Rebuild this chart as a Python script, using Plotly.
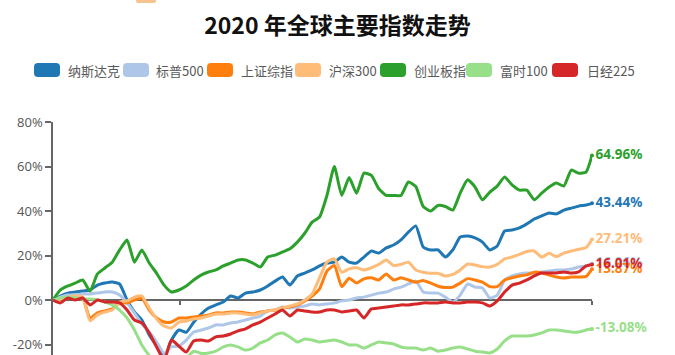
import pandas as pd
import plotly.graph_objects as go

# ---------------- data (cumulative % change, 2020) ----------------
dates = list(pd.date_range("2020-01-02", periods=73, freq="5D").strftime("%Y-%m-%d")) + ["2020-12-31"]

names = ["纳斯达克", "标普500", "上证综指", "沪深300", "创业板指", "富时100", "日经225"]
colors = ["#1f77b4", "#aec7e8", "#ff7f0e", "#ffbb78", "#2ca02c", "#98df8a", "#d62728"]

nasdaq = [0, 1.8, 3.1, 3.6, 4.0, 4.5, 6.7, 7.6, 8.1, 7.2, 0, -5.4, -9.0, -15.7, -20.7, -26, -18, -13.5,
          -14.5, -10.0, -6.3, -3.6, -2.2, -0.9, 1.8, 0.9, 3.1, 3.6, 4.5, 6.3, 8.5, 10.3, 6.7, 10.8, 12.1,
          13.5, 15.3, 16.6, 17.0, 19.3, 17.0, 16.6, 19.3, 22.0, 21.1, 23.4, 24.7, 27.0, 30.5, 33.3, 23.8,
          22.5, 22.5, 19.3, 22.5, 28.3, 28.8, 27.9, 26.0, 22.5, 24.3, 31.0, 31.5, 32.4, 34.2, 36.4, 37.8,
          39.1, 38.7, 40.4, 41.3, 42.2, 42.7, 43.44]
sp500 = [0, 1.3, 2.2, 2.2, 2.7, 2.7, 3.1, 3.6, 3.6, 2.2, -1.3, -5.8, -10.8, -14.4, -18.9, -24, -21, -20.7,
         -18, -14.4, -13.5, -12.6, -11.2, -11.2, -10.3, -9.9, -9.0, -8.1, -7.2, -4.9, -4.5, -3.1, -3.6, -3.1,
         -2.7, -1.8, -2.2, -1.8, -1.3, -0.4, 0, 0.9, 1.3, 2.2, 3.1, 3.6, 4.9, 5.8, 7.2, 8.5, 3.6, 3.1, 3.1,
         1.3, -0.9, 2.2, 7.2, 5.8, 5.4, 0.9, 2.2, 9.0, 10.8, 11.7, 12.1, 12.1, 12.6, 13.0, 13.5, 13.5, 13.9,
         14.8, 15.3, 16.26]
sse = [0, 0.4, 0.9, 1.3, 0.9, -8.1, -5.8, -4.9, -4.0, -1.3, -1.3, 0, 0.9, -4.5, -8.1, -9.9, -9.9, -8.1,
       -8.1, -7.6, -7.2, -6.7, -5.8, -5.8, -5.4, -5.4, -5.8, -6.3, -5.4, -4.9, -4.5, -3.6, -3.1, -2.2, -0.4,
       1.8, 5.0, 13.0, 15.5, 6.0, 9.8, 7.6, 9.5, 10.0, 9.0, 11.7, 9.0, 10.0, 9.0, 8.0, 8.8, 7.6, 6.2, 5.6,
       5.8, 7.6, 9.6, 9.0, 8.0, 6.0, 6.0, 9.0, 10.0, 10.8, 11.3, 12.5, 12.2, 11.2, 10.3, 9.9, 10.3, 10.3,
       10.6, 13.87]
csi300 = [0, 0.4, 1.3, 1.8, 1.3, -9.4, -6.7, -5.4, -4.5, -0.9, -0.4, 1.3, 1.8, -3.6, -8.5, -11.7, -12.6,
          -9.9, -9.4, -8.5, -8.1, -7.2, -6.3, -6.3, -5.8, -5.8, -6.3, -6.7, -5.8, -4.9, -4.5, -3.6, -2.7,
          -1.8, 0, 2.7, 10.0, 17.0, 18.5, 12.5, 14.0, 14.5, 13.5, 14.5, 16.0, 18.0, 15.5, 16.0, 17.0, 13.5,
          12.5, 12.0, 12.0, 10.8, 11.5, 13.5, 16.2, 15.7, 15.0, 14.8, 16.0, 18.5, 19.3, 20.5, 21.8, 22.0,
          19.3, 21.0, 19.5, 21.1, 22.0, 22.8, 23.6, 27.21]
chinext = [0, 4.5, 6.3, 7.6, 9.0, 4.0, 11.7, 14.4, 17.0, 22.5, 27.0, 17.0, 22.5, 16.6, 12.0, 6.7, 3.6, 4.5,
           6.3, 9.0, 11.2, 12.6, 13.5, 15.3, 16.6, 18.0, 18.0, 16.6, 14.8, 19.3, 20.2, 21.6, 23.0, 26.0,
           30.0, 35.0, 37.3, 47.0, 60.0, 47.0, 55.0, 48.0, 57.0, 56.0, 50.0, 47.0, 47.0, 47.0, 53.0, 51.0,
           42.0, 40.0, 42.5, 42.0, 40.4, 48.0, 54.0, 50.8, 45.0, 48.5, 51.2, 55.3, 51.7, 49.4, 49.4, 45.0,
           48.0, 50.8, 52.6, 51.2, 58.4, 57.0, 57.5, 64.96]
ftse = [0, 0.9, 1.3, 0.9, 0.4, 0.4, 0, -0.9, -2.2, -4.5, -8.1, -13.5, -20.2, -25, -29, -33, -30, -28, -26,
        -23, -24, -23.8, -23, -21.1, -20.2, -21.1, -22.5, -21.6, -19.3, -18, -15.7, -14.8, -16.6, -18.9,
        -17.5, -18, -18.9, -18.4, -18, -18.9, -20.2, -20.2, -21.6, -20.2, -18.9, -19.3, -19.8, -21.1, -21.6,
        -21.6, -22.5, -21.6, -23, -22.5, -21.6, -21.1, -22, -23, -23.4, -23.8, -22, -18.4, -16.2, -16.2,
        -16.2, -15.7, -14.8, -13.5, -13.5, -13.9, -14.4, -14.4, -13.5, -13.08]
nikkei = [0, -1.3, 0.9, 0, 0.9, -2.2, 0, -0.9, -0.9, -1.3, -4.5, -9.0, -10.3, -14.8, -21.1, -27, -18, -20.7,
          -23.4, -18.4, -18, -18.4, -16.6, -16.2, -15.3, -13.9, -13, -11.2, -9.9, -8.1, -6.3, -4.5, -7.2,
          -4.5, -4.9, -5.4, -5.4, -4.5, -4.5, -5.4, -4.9, -4.5, -8.1, -4.0, -3.6, -3.1, -2.7, -2.2, -2.2,
          -1.8, -1.3, -1.3, -1.3, -0.9, -1.3, -1.3, -0.9, -0.9, -1.3, -2.7, -0.4, 3.6, 6.7, 7.6, 9.0, 10.8,
          12.1, 12.1, 12.1, 12.6, 12.1, 12.6, 15.3, 16.01]

series = [nasdaq, sp500, sse, csi300, chinext, ftse, nikkei]

y_tickvals = [-20, 0, 20, 40, 60, 80]
y_ticktext = ["-20%", "0%", "20%", "40%", "60%", "80%"]
x_tickvals = ["2020-03-28", "2020-12-31"]
Y_MIN, Y_MAX = -24.72, 80

# ---------------- figure ----------------
W, H = 675, 355
L, R, T, B = 53, 83, 122, 0
PW, PH = W - L - R, H - T - B

def px(xp):
    return (xp - L) / PW

def py(yp):
    return (H - B - yp) / PH

fig = go.Figure()
for name, col, vals in zip(names, colors, series):
    fig.add_trace(go.Scatter(
        x=dates, y=vals, name=name, mode="lines",
        line=dict(color=col, width=3, shape="spline", smoothing=0.5),
        hoverinfo="skip", showlegend=False))

for name, col, vals in zip(names, colors, series):
    fig.add_trace(go.Scatter(
        x=[dates[-1]], y=[vals[-1]], mode="markers+text",
        marker=dict(color=col, size=4),
        text=[f"{vals[-1]:.2f}%"], textposition="middle right",
        textfont=dict(family="Noto Sans", size=13.5, color=col, weight="bold"),
        cliponaxis=False, showlegend=False, hoverinfo="skip"))

# custom legend (rounded swatches + text)
sw_left = [34, 123, 207, 295, 380, 466, 552]
txt_left = [66, 154, 239, 327, 412, 498, 585]
shapes = []
annotations = []

def rrect(x0, y0, x1, y1, r):
    pts = [
        f"M{px(x0 + r)},{py(y0)}", f"L{px(x1 - r)},{py(y0)}",
        f"Q{px(x1)},{py(y0)} {px(x1)},{py(y0 + r)}", f"L{px(x1)},{py(y1 - r)}",
        f"Q{px(x1)},{py(y1)} {px(x1 - r)},{py(y1)}", f"L{px(x0 + r)},{py(y1)}",
        f"Q{px(x0)},{py(y1)} {px(x0)},{py(y1 - r)}", f"L{px(x0)},{py(y0 + r)}",
        f"Q{px(x0)},{py(y0)} {px(x0 + r)},{py(y0)}", "Z"]
    return " ".join(pts)

for name, col, sl, tl in zip(names, colors, sw_left, txt_left):
    shapes.append(dict(type="path", xref="paper", yref="paper",
                       path=rrect(sl, 63, sl + 26, 77, 4),
                       fillcolor=col, line=dict(width=0)))
    annotations.append(dict(x=px(tl), y=py(70.5), xref="paper", yref="paper",
                            text=name, showarrow=False, xanchor="left", yanchor="middle",
                            font=dict(family="Noto Sans CJK SC", size=13, color="#595959")))

# small cropped image sliver at the top
shapes.append(dict(type="path", xref="paper", yref="paper",
                   path=rrect(136, -3, 156, 3, 2), fillcolor="#f6c48c", line=dict(width=0)))

fig.update_layout(
    width=W, height=H,
    margin=dict(l=L, r=R, t=T, b=B, pad=0),
    paper_bgcolor="white", plot_bgcolor="white",
    showlegend=False,
    title=dict(text="<b>2020 年全球主要指数走势</b>", x=0.5, xref="container", xanchor="center",
               y=1 - 26 / H, yref="container", yanchor="middle",
               font=dict(family="Noto Sans CJK SC", size=23, color="#111111")),
    xaxis=dict(type="date", range=[dates[0], dates[-1]], showgrid=False, zeroline=False,
               showline=True, linecolor="#666666", linewidth=1.5,
               ticks="outside", ticklen=4, tickcolor="#666666", tickwidth=1.5,
               tickvals=x_tickvals, showticklabels=False,
               anchor="free", position=(0 - Y_MIN) / (Y_MAX - Y_MIN), layer="below traces"),
    yaxis=dict(range=[Y_MIN, Y_MAX], showgrid=False, zeroline=False,
               showline=True, linecolor="#666666", linewidth=1.5,
               ticks="outside", ticklen=6, tickcolor="#666666", tickwidth=1.5,
               tickvals=y_tickvals, ticktext=y_ticktext,
               tickfont=dict(family="Open Sans", size=13, color="#555555"), layer="below traces"),
    shapes=shapes, annotations=annotations,
)

fig.write_html("out.html")
